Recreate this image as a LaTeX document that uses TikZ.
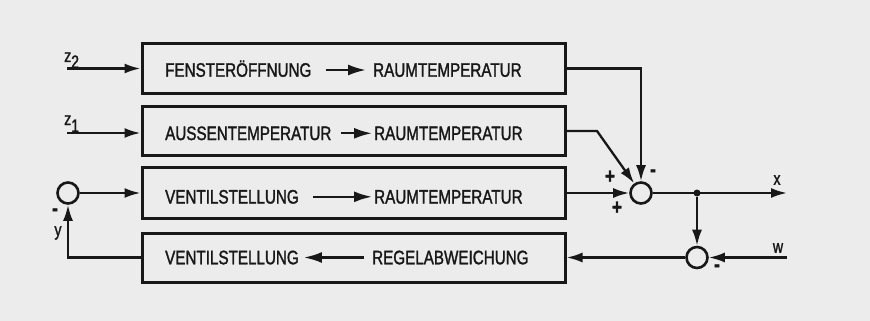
\documentclass[tikz,border=0pt]{standalone}
\usepackage{fontspec}
\setmainfont{Liberation Sans}[FakeStretch=0.78,FakeBold=1.5]
\usetikzlibrary{arrows.meta}
\definecolor{bg}{RGB}{236,236,236}
\definecolor{ink}{RGB}{24,24,24}
\begin{document}
\begin{tikzpicture}[x=1pt,y=-1pt,
  blk/.style={draw=ink,line width=3pt,minimum width=423pt,minimum height=49pt,inner sep=0pt},
  lbl/.style={font=\fontsize{19.5}{20}\selectfont,text=ink,inner sep=0pt,text height=13.5pt,text depth=0pt,anchor=west},
  sumc/.style={circle,draw=ink,line width=2.6pt,minimum size=21pt,inner sep=0pt},
  conn/.style={draw=ink,line width=2.3pt},
  arr/.style={conn,-{Latex[length=16pt,width=10pt]}},
  inarr/.style={conn,-{Latex[length=18pt,width=11pt]}},
  sm/.style={font=\fontsize{18}{18}\selectfont,text=ink,inner sep=0pt},
  sgn/.style={font=\fontsize{22}{22}\selectfont\bfseries,text=ink,inner sep=0pt},
  dotn/.style={circle,fill=ink,inner sep=0pt,minimum size=7pt}
]
\fill[bg] (0,0) rectangle (870,321);
\useasboundingbox (0,0) rectangle (870,321);

% blocks
\node[blk] (b1) at (353.5,68.5) {};
\node[blk] (b2) at (353.5,131) {};
\node[blk,minimum height=51pt] (b3) at (353.5,193) {};
\node[blk] (b4) at (353.5,257.5) {};

% block texts
\node[lbl] (t1l) at (165,70) {FENSTERÖFFNUNG};
\node[lbl] (t1r) at (373,70) {RAUMTEMPERATUR};
\node[lbl] (t2l) at (165,133.3) {AUSSENTEMPERATUR};
\node[lbl] (t2r) at (374,133.3) {RAUMTEMPERATUR};
\node[lbl] (t3l) at (165,196.8) {VENTILSTELLUNG};
\node[lbl] (t3r) at (374,196.8) {RAUMTEMPERATUR};
\node[lbl] (t4l) at (165,257.5) {VENTILSTELLUNG};
\node[lbl] (t4r) at (372,257.5) {REGELABWEICHUNG};

\draw[inarr,shorten <=14pt,shorten >=7pt] (t1l.east) -- (t1r.west);
\draw[inarr,shorten <=9pt,shorten >=2pt] (t2l.east) -- (t2r.west);
\draw[inarr,shorten <=14pt,shorten >=2pt] (t3l.east) -- (t3r.west);
\draw[inarr,shorten <=8pt,shorten >=5pt] (t4r.west) -- (t4l.east);

% disturbance inputs
\coordinate (z2) at (67,68.5);
\coordinate (z1) at (67,133);
\draw[arr] (z2) -- (b1.west);
\draw[arr] (z1) -- (b2.west |- z1);
\node[sm,anchor=base west] (lz2) at (64,62) {z\raisebox{-6pt}{2}};
\node[sm,anchor=base west] (lz1) at (64,125) {z\raisebox{-7pt}{1}};

% left summing point and feedback
\node[sumc] (c1) at (68,193) {};
\draw[arr] (c1) -- (b3.west);
\draw[arr] (b4.west) -| (c1.south);
\node[sgn] (m1) at (55,212) {-};
\node[sm] (ly) at (58,233) {y};

% right summing point
\node[sumc] (c2) at (641,193) {};
\coordinate (b2k) at (597,131);
\draw[arr] (b3.east) -- (c2);
\draw[arr] (b1.east) -| (c2.north);
\draw[arr] (b2.east) -- (b2k) -- (c2);
\node[sgn] (p1) at (610,177) {+};
\node[sgn] (p2) at (617,208) {+};
\node[sgn] (m2) at (653,173) {-};

% output x
\node[dotn] (d) at (697,193) {};
\coordinate (xo) at (787,193);
\draw[arr] (c2) -- (xo);
\node[sm] (lx) at (777,180) {x};

% comparison with w
\node[sumc] (c3) at (697,257.5) {};
\draw[arr] (d) -- (c3);
\coordinate (wi) at (787,257.5);
\draw[arr] (wi) -- (c3);
\node[sm] (lw) at (778,248) {w};
\node[sgn] (m3) at (717,268) {-};
\draw[arr] (c3) -- (b4.east);
\end{tikzpicture}
\end{document}
